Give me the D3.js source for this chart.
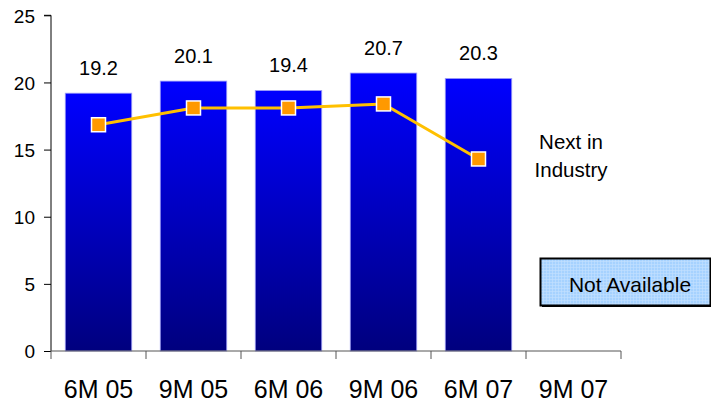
<!DOCTYPE html>
<html><head><meta charset="utf-8">
<script src="https://cdn.jsdelivr.net/npm/d3@7"></script>
<style>body{margin:0;background:#fff}svg{display:block;font-family:Arial,"Liberation Sans",sans-serif}</style>
</head><body><svg id="c" width="711" height="406"></svg>
<script>
const categories = ["6M 05","9M 05","6M 06","9M 06","6M 07","9M 07"];
const barValues = [19.2, 20.1, 19.4, 20.7, 20.3, null];
const barLabels = ["19.2","20.1","19.4","20.7","20.3",null];
const industryValues = [16.85, 18.1, 18.1, 18.4, 14.3, null];
const yTicks = [0,5,10,15,20,25];
const sideNote = ["Next in","Industry"];
const boxText = "Not Available";

const svg = d3.select("#c");
const x = d3.scaleBand().domain(categories).range([51,621]).paddingInner(0.3).paddingOuter(0.15);
const y = d3.scaleLinear().domain([0,25]).range([351,15.3]);

const defs = svg.append("defs");
const g = defs.append("linearGradient").attr("id","bg").attr("x1",0).attr("y1",0).attr("x2",0).attr("y2",1);
g.append("stop").attr("offset","0%").attr("stop-color","#0000FF");
g.append("stop").attr("offset","100%").attr("stop-color","#00007E");
const p = defs.append("pattern").attr("id","pt").attr("width",3).attr("height",3).attr("patternUnits","userSpaceOnUse");
p.append("rect").attr("width",3).attr("height",3).attr("fill","#A6D2FF");
p.append("path").attr("d","M0,0.5H3M0.5,0V3").attr("stroke","#C4E0FF").attr("stroke-width",0.6);

// bars
svg.append("g").selectAll("rect").data(categories.filter((c,i)=>barValues[i]!=null)).join("rect")
  .attr("x",d=>x(d)).attr("width",x.bandwidth())
  .attr("y",d=>y(barValues[categories.indexOf(d)]))
  .attr("height",d=>y(0)-y(barValues[categories.indexOf(d)]))
  .attr("fill","url(#bg)").attr("stroke","#A0A0F8").attr("stroke-width",0.8);

// bar labels
svg.append("g").selectAll("text").data(categories.filter((c,i)=>barValues[i]!=null)).join("text")
  .attr("x",d=>x(d)+x.bandwidth()/2).attr("y",d=>y(barValues[categories.indexOf(d)])-18)
  .attr("text-anchor","middle").attr("font-size",20).attr("fill","#000")
  .text(d=>barLabels[categories.indexOf(d)]);

// y axis
const ya = svg.append("g").attr("transform","translate(51,0)")
  .call(d3.axisLeft(y).tickValues(yTicks).tickSize(7).tickPadding(9).tickFormat(d3.format("d")));
ya.selectAll("path,line").attr("stroke","#000");
ya.selectAll("text").attr("font-size",19).attr("fill","#000").attr("dy","0.36em");
ya.select(".domain").attr("d","M-7,15.3H0V351");

// x axis
const xa = svg.append("g").attr("transform","translate(0,351)")
  .call(d3.axisBottom(x).tickSize(0).tickPadding(29));
xa.select(".domain").attr("stroke","#555").attr("d","M51,0H621");
xa.selectAll("text").attr("font-size",25).attr("fill","#000");
const bounds = d3.range(categories.length+1).map(i=>x.range()[0]+i*x.step());
xa.append("g").selectAll("line").data(bounds).join("line")
  .attr("x1",d=>d).attr("x2",d=>d).attr("y1",0).attr("y2",8).attr("stroke","#555");

// industry line
const pts = categories.map((c,i)=>[c,industryValues[i]]).filter(d=>d[1]!=null);
svg.append("path").datum(pts)
  .attr("d",d3.line().x(d=>x(d[0])+x.bandwidth()/2).y(d=>y(d[1])))
  .attr("fill","none").attr("stroke","#FFC000").attr("stroke-width",3);
svg.append("g").selectAll("rect").data(pts).join("rect")
  .attr("x",d=>x(d[0])+x.bandwidth()/2-7).attr("y",d=>y(d[1])-7)
  .attr("width",14).attr("height",14).attr("fill","#FF9900").attr("stroke","#fff").attr("stroke-width",1.5);

// side note
svg.append("text").attr("x",571).attr("y",149).attr("text-anchor","middle").attr("font-size",20.5)
  .selectAll("tspan").data(sideNote).join("tspan").attr("x",571).attr("dy",(d,i)=>i?28:0).text(d=>d);

// not available box
svg.append("rect").attr("x",542).attr("y",258).attr("width",170).attr("height",49).attr("fill","#000");
svg.append("rect").attr("x",540.5).attr("y",258.5).attr("width",170).attr("height",47).attr("fill","url(#pt)").attr("stroke","#000").attr("stroke-width",2);
svg.append("text").attr("x",630).attr("y",292).attr("text-anchor","middle").attr("font-size",21).text(boxText);
</script></body></html>
